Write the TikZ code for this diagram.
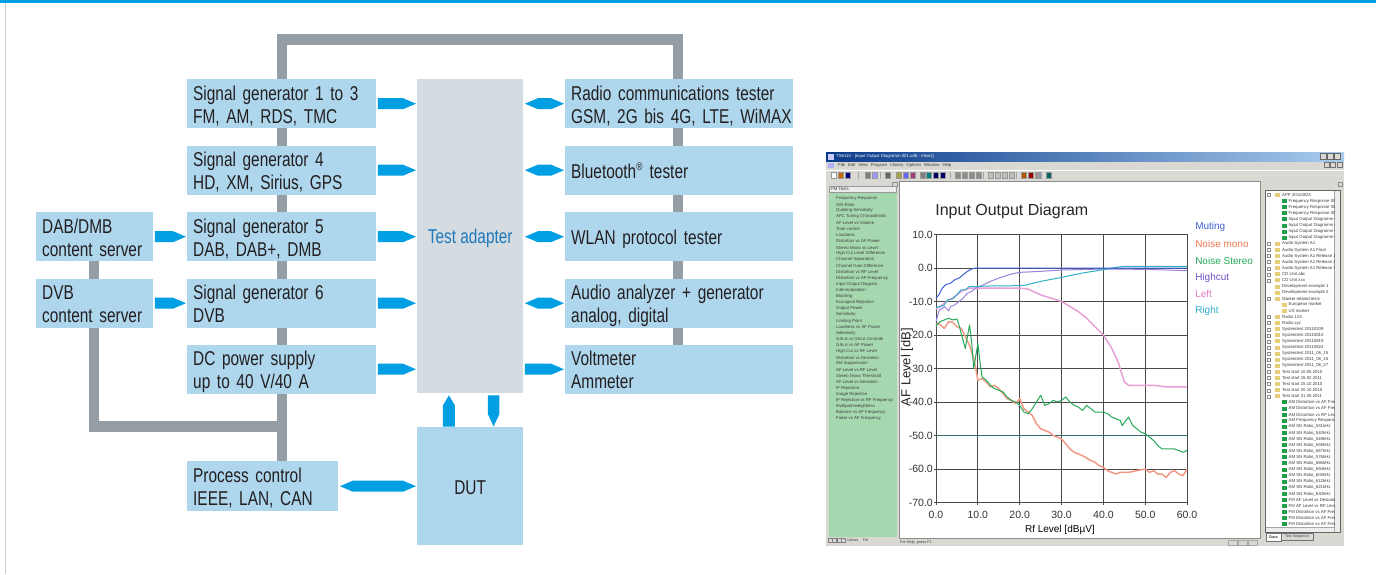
\documentclass[tikz,border=0pt]{standalone}
\usepackage{fontspec}
\setmainfont[FakeStretch=0.77]{Liberation Sans}
\newfontfamily\arial{Liberation Sans}
\usetikzlibrary{calc}
\pgfdeclarelayer{background}
\pgfsetlayers{background,main}
\definecolor{boxc}{HTML}{AED6ED}
\definecolor{tac}{HTML}{D5DCE1}
\definecolor{busc}{HTML}{959EA5}
\definecolor{arrc}{HTML}{009FE3}
\definecolor{txtc}{HTML}{231F20}
\definecolor{tatxt}{HTML}{1F78BA}
\definecolor{framec}{HTML}{C9CED2}
\definecolor{winc}{HTML}{DAD8D2}
\definecolor{tbl}{HTML}{0A3A8A}
\definecolor{tbr}{HTML}{A8CCEE}
\definecolor{greenc}{HTML}{A6D8AF}
\definecolor{tinyc}{HTML}{3C3C3C}
\definecolor{gridc}{HTML}{4A4A4A}
\definecolor{mutc}{HTML}{3F63D6}
\definecolor{monoc}{HTML}{F39A86}
\definecolor{monot}{HTML}{F0744E}
\definecolor{sterc}{HTML}{25A858}
\definecolor{highc}{HTML}{9A82DE}
\definecolor{hight}{HTML}{7450C8}
\definecolor{leftc}{HTML}{E6A0D6}
\definecolor{leftt}{HTML}{E27CC4}
\definecolor{rightc}{HTML}{2EB0CA}
\definecolor{foldc}{HTML}{E6CF7A}
\definecolor{filec}{HTML}{1E9E48}
\newcommand\bfnt{\fontsize{20}{23}\selectfont\lineskiplimit=-30pt\relax}
\newcommand\ls{\rule[-3.5pt]{0pt}{23pt}}
\newcommand\bl[1]{\mbox{\ls #1}}
\newcommand\harr[2]{\fill[arrc] ($(#1)+(1.5,-5.5)$) -- ($(#2)+(-14,-5.5)$) -- ($(#2)+(-1,0)$) -- ($(#2)+(-14,5.5)$) -- ($(#1)+(1.5,5.5)$) -- cycle;}
\newcommand\dharr[2]{\fill[arrc] ($(#1)+(1.5,0)$) -- ($(#1)+(14.5,-5.5)$) -- ($(#2)+(-14,-5.5)$) -- ($(#2)+(-1,0)$) -- ($(#2)+(-14,5.5)$) -- ($(#1)+(14.5,5.5)$) -- cycle;}
\begin{document}
\begin{tikzpicture}[x=1pt,y=-1pt,
  box/.style={fill=boxc, draw=none, anchor=north west, minimum height=49pt, inner xsep=6pt, inner ysep=0pt, align=left, text=txtc, font=\bfnt},
  bus/.style={draw=busc, line width=10.5pt},
  tiny/.style={font=\arial\fontsize{4.3}{5}\selectfont, text=tinyc, inner sep=0pt},
  grid/.style={draw=gridc, line width=0.8pt},
  curve/.style={line width=1pt, line join=round},
  tick/.style={font=\arial\fontsize{10.5}{12}\selectfont, text=black!80, inner sep=0pt},
  legend/.style={font=\arial\fontsize{10}{12}\selectfont, inner sep=0pt, anchor=west}]
\useasboundingbox (0,0) rectangle (1376,574);
\begin{pgfonlayer}{background}
\fill[white] (0,0) rectangle (1376,574);
\end{pgfonlayer}
\fill[arrc] (0,0) rectangle (1376,3.2);
\draw[framec, line width=1.6pt] (5.5,3) -- (5.5,574);

% ---------------- block diagram ----------------
\node[box, text width=177pt] (sg1) at (187,79) {\bl{Signal generator 1 to 3}\\\bl{FM, AM, RDS, TMC}};
\node[box, text width=177pt] (sg4) at (187,145.5) {\bl{Signal generator 4}\\\bl{HD, XM, Sirius, GPS}};
\node[box, text width=177pt] (sg5) at (187,212) {\bl{Signal generator 5}\\\bl{DAB, DAB+, DMB}};
\node[box, text width=177pt] (sg6) at (187,278.5) {\bl{Signal generator 6}\\\bl{DVB}};
\node[box, text width=177pt] (dc) at (187,344.5) {\bl{DC power supply}\\\bl{up to 40 V/40 A}};
\node[box, text width=139pt, minimum height=50pt] (pc) at (187,461) {\bl{Process control}\\\bl{IEEE, LAN, CAN}};
\node[box, text width=105pt] (dab) at (36,212) {\bl{DAB/DMB}\\\bl{content server}};
\node[box, text width=105pt] (dvb) at (36,278.5) {\bl{DVB}\\\bl{content server}};
\node[box, fill=tac, text=tatxt, align=center, inner sep=0pt, minimum width=106pt, minimum height=314pt] (ta) at (417,79) {\bl{Test adapter}};
\node[box, align=center, inner sep=0pt, minimum width=106pt, minimum height=118pt] (dut) at (417,427) {\bl{DUT}};
\node[box, text width=216pt] (rc) at (565,79) {\bl{Radio communications tester}\\\bl{GSM, 2G bis 4G, LTE, WiMAX}};
\node[box, text width=216pt] (bt) at (565,145.5) {\bl{Bluetooth\textsuperscript{\fontsize{11}{11}\selectfont\textregistered} tester}};
\node[box, text width=216pt] (wlan) at (565,212) {\bl{WLAN protocol tester}};
\node[box, text width=216pt] (aud) at (565,278.5) {\bl{Audio analyzer + generator}\\\bl{analog, digital}};
\node[box, text width=216pt] (volt) at (565,344.5) {\bl{Voltmeter}\\\bl{Ammeter}};

\coordinate (bl) at (282,39.5);
\coordinate (br) at (678,39.5);
\coordinate (bx) at (94,426.5);
\begin{pgfonlayer}{background}
\draw[bus] (bl |- pc.north) -- (bl) -- (br) -- (br |- volt.north);
\draw[bus] (bx |- dab.south) -- (bx) -- ($(bl |- bx)+(5,0)$);
\end{pgfonlayer}

\harr{sg1.east}{ta.west|-sg1.east}
\harr{sg4.east}{ta.west|-sg4.east}
\harr{sg5.east}{ta.west|-sg5.east}
\harr{sg6.east}{ta.west|-sg6.east}
\harr{dc.east}{ta.west|-dc.east}
\harr{dab.east}{sg5.west}
\harr{dvb.east}{sg6.west}
\dharr{ta.east|-rc.west}{rc.west}
\dharr{ta.east|-bt.west}{bt.west}
\dharr{ta.east|-wlan.west}{wlan.west}
\dharr{ta.east|-aud.west}{aud.west}
\harr{ta.east|-volt.west}{volt.west}
\dharr{pc.east}{dut.west|-pc.east}
\coordinate (u1) at ($(dut.north west)!0.3!(dut.north east)$);
\coordinate (u2) at ($(dut.north west)!0.72!(dut.north east)$);
\fill[arrc] ($(u1)+(-6,-0.5)$) -- ($(ta.south-|u1)+(-6,12)$) -- ($(ta.south-|u1)+(0,2)$) -- ($(ta.south-|u1)+(6,12)$) -- ($(u1)+(6,-0.5)$) -- cycle;
\fill[arrc] ($(ta.south-|u2)+(-5.75,2)$) -- ($(u2)+(-5.75,-13)$) -- ($(u2)+(0,-0.5)$) -- ($(u2)+(5.75,-13)$) -- ($(ta.south-|u2)+(5.75,2)$) -- cycle;

% ---------------- screenshot ----------------
\fill[winc] (826,152) rectangle (1344,546);
\shade[left color=tbl, right color=tbr] (826,152) rectangle (1344,161);
\fill[white!80!blue] (827.5,153.5) rectangle (833.5,159.5);
\node[tiny, text=white, anchor=west] (wtitle) at (836,156.5) {TS6110 - [Input Output Diagramm 001.xdb - View1]};
\foreach \bx in {1320,1327,1334}{\fill[winc] (\bx,153.5) rectangle ++(6,6); \draw[black!60, line width=0.3pt] (\bx,153.5) rectangle ++(6,6);}
% menu
\fill[white!70!blue] (827.5,162.5) rectangle (833.5,168);
\node[tiny, anchor=west] (menu) at (838,165.5) {File\hspace{3pt}Edit\hspace{3pt}View\hspace{3pt}Program\hspace{3pt}Library\hspace{3pt}Options\hspace{3pt}Window\hspace{3pt}Help};
\foreach \bx in {1324,1330.5,1337}{\draw[black!55, line width=0.3pt] (\bx,162.5) rectangle ++(5,5);}
% toolbar
\draw[white, line width=0.5pt] (826,170) -- (1344,170);
\foreach \ix/\ic in {831/white, 838/orange!80!black, 845/blue!50!black, 865/black!50, 872/blue!40, 885/black!60, 896/yellow!60!black, 903/blue!60, 910/magenta!60!black, 920/black!50, 926/teal, 933/blue!40!black, 940/blue!40!black, 955/black!45, 962/black!45, 969/black!45, 976/black!45, 988/black!25, 995/black!25, 1002/black!25, 1009/black!25, 1021/orange!70!black, 1028/red!60!black, 1035/black!40, 1046/teal!80!black}{
  \fill[\ic] (\ix,172.5) rectangle ++(5.5,5.5);
  \draw[black!40, line width=0.25pt] (\ix,172.5) rectangle ++(5.5,5.5);}
\foreach \sx in {858,880,950,983,1016,1041}{\draw[black!35, line width=0.4pt] (\sx,172) -- (\sx,179);}
% left pane
\draw[black!45, line width=0.3pt] (892,182) rectangle (897,186);
\fill[black!8] (829,186) rectangle (896,192);
\draw[black!40, line width=0.3pt] (829,186) rectangle (896,192);
\node[tiny, anchor=west] (fmt) at (831,189) {FM Tests};
\fill[greenc] (829,192.5) rectangle (896.5,537);
\foreach \tx [count=\i] in {Frequency Response, S/N Ratio, Quieting Sensitivity, AFC Tuning Characteristic, AF Level vs Volume, Tone control, Loudness, Distortion vs AF Power, Stereo Mono vs Level, High Cut Level Difference, Channel Separation, Channel Gain Difference, Distortion vs RF Level, Distortion vs AF Frequency, Input Output Diagram, Intermodulation, Blocking, Ecosignal Rejection, Output Power, Sensitivity, Limiting Point, Loudness vs AF Power, Selectivity, GALA vs GALA Controle, GALA vs AF Power, High Cut vs RF Level, Distortion vs Deviation, AM Suppression, AF Level vs RF Level, Stereo Mono Threshold, AF Level vs Deviation, IF Rejection, Image Rejection, IF Rejection vs RF Frequency, Multipath/weightless, Balance vs AF Frequency, Fader vs AF Frequency}
  {\node[tiny, anchor=west] (fm\i) at ({836},{198.5+6.12*(\i-1)}) {\tx};}
\foreach \nx in {828,832.5,837,841.5}{\draw[black!50, line width=0.3pt] (\nx,538.5) rectangle ++(4,4);}
\node[tiny, anchor=west, font=\arial\fontsize{3.5}{4}\selectfont] (ntab) at (847,540.5) {Utilities \quad FM};
% chart area
\fill[white] (899,181) rectangle (1260.5,538);
\draw[black!45, line width=0.5pt] (899,181) rectangle (1260.5,538);
\node[tiny, anchor=west, font=\arial\fontsize{3.8}{4}\selectfont] (status) at (900,542.5) {For Help, press F1};
\foreach \px in {1228,1238,1248}{\draw[black!35, line width=0.3pt] (\px,540) rectangle ++(9,5);}

\begin{scope}[shift={(936,268)}, x=4.185pt, y=3.35pt]
  \foreach \gx in {10,20,30,40,50}{\draw[grid] (\gx,-70) -- (\gx,10);}
  \foreach \gy in {0,-10,-20,-30,-40,-60}{\draw[grid] (0,\gy) -- (60,\gy);}
  \draw[draw=teal!60!black!80, line width=0.8pt] (0,-50) -- (60,-50);
  \draw[grid] (0,-70) rectangle (60,10);
  \foreach \v [count=\i] in {10,0,-10,-20,-30,-40,-50,-60,-70}{
    \draw[grid] (0,\v) -- ++(-2.5pt,0);
    \node[tick, anchor=east] (yl\i) at ([xshift=-3pt]0,\v) {\v.0};}
  \foreach \v [count=\i] in {0,10,20,30,40,50,60}{
    \draw[grid] (\v,-70) -- ++(0,-2.5pt);
    \node[tick] (xl\i) at ([yshift=-12pt]\v,-70) {\v.0};}
  \node[font=\arial\fontsize{10}{12}\selectfont, inner sep=0pt] (xlab) at (29.6,-78.3) {Rf Level [dBµV]};
  \node[font=\arial\fontsize{13}{14}\selectfont, inner sep=0pt, rotate=90, text=black!85] (ylab) at (-6.9,-29.6) {AF Level [dB]};
  \node[font=\arial\fontsize{16}{18}\selectfont, inner sep=0pt, anchor=west, text=black!85] (ctitle) at (-0.2,17) {Input Output Diagram};
  \node[legend, text=mutc] (lg1) at (61.9,12.2) {Muting};
  \node[legend, text=monot] (lg2) at (61.9,7.1) {Noise mono};
  \node[legend, text=sterc] (lg3) at (61.9,2.1) {Noise Stereo};
  \node[legend, text=hight] (lg4) at (61.9,-3.0) {Highcut};
  \node[legend, text=leftt] (lg5) at (61.9,-7.8) {Left};
  \node[legend, text=rightc] (lg6) at (61.9,-12.8) {Right};
  % curves
  \draw[curve, draw=monoc, line width=1.5pt] plot coordinates {(0,-17) (0.5,-16.5) (1,-17) (2,-18) (2.5,-17) (3,-16) (4,-16.2) (5,-17.5) (6,-18) (7,-20.5) (8,-23) (9,-27) (9.5,-30) (10,-33.5) (11,-33) (12,-34) (13,-35.5) (14,-35) (15,-36) (16,-37.5) (17,-39) (18,-39.5) (19,-40.5) (20,-39) (21,-42) (22,-43) (23,-44) (24,-46.5) (25,-48) (26,-48.5) (27,-49) (28,-50) (29,-50.5) (30,-51) (31,-52.5) (32,-54) (33,-55) (35,-56) (37,-57.5) (38,-58) (39,-59) (40,-59.5) (41,-60.5) (42,-61) (43,-61.5) (44,-61) (46,-61) (48,-60.5) (50,-60) (51,-61) (52,-60.5) (53,-61.5) (54,-61.5) (55,-62.5) (56,-61) (57,-60.5) (58,-61.5) (59,-62) (60,-60)};
  \draw[curve, draw=leftc, line width=1.5pt] plot coordinates {(0,-12.2) (1,-11.5) (2,-10.5) (3,-9.5) (4,-9) (5,-8) (6,-7) (7,-6.5) (8,-6) (10,-6) (15,-6) (20,-6) (22,-6.3) (25,-8) (28,-9.2) (30,-10) (32,-11.5) (34,-13) (36,-15) (38,-17.5) (40,-20) (42,-24) (43.5,-28) (45,-34) (46,-35) (48,-35) (50,-35) (52,-35) (55,-35.5) (60,-35.5)};
  \draw[curve, draw=sterc] plot coordinates {(0,-17.5) (0.5,-16.5) (1,-16) (2,-15.5) (3,-15) (4,-15.5) (5,-15.2) (5.5,-17) (6,-19.5) (7,-24) (8,-17) (8.5,-22) (9,-30) (10,-22.5) (10.5,-28) (11,-32.5) (12,-33.5) (13,-35) (14,-36) (15,-36.5) (16,-37) (17,-38.5) (18,-39.5) (19,-40) (20,-41) (21,-43) (22,-43.5) (23,-42) (24,-40) (25,-38) (26,-41) (27,-40.5) (28,-39.5) (29,-40) (30,-39.5) (31,-38.5) (32,-40) (33,-41) (34,-41.5) (35,-42.5) (36,-41) (37,-42) (38,-43) (40,-43) (41,-43.5) (42,-44.5) (43,-45) (44,-45.5) (44.5,-47) (46,-44.5) (47,-47) (48,-48) (49,-49) (50,-49.5) (51,-50.5) (52,-51.5) (53,-53) (54,-54) (56,-54) (57,-54) (58,-54.5) (59,-55) (60,-54.5)};
  \draw[curve, draw=highc] plot coordinates {(0,-16) (0.8,-12.5) (1.5,-12) (2,-11.5) (3,-12.8) (3.5,-11.5) (4.5,-11) (5.5,-10) (6.5,-9) (7.5,-7.5) (8.5,-7) (9.5,-6) (11,-5.2) (13,-4) (15,-3) (18,-1.8) (20,-1.3) (25,-1) (30,-0.6) (40,-0.3) (50,-0.4) (60,-0.8)};
  \draw[curve, draw=rightc] plot coordinates {(0,-11.8) (1,-11.5) (2,-11) (2.8,-9.5) (4,-9.2) (5,-8) (6,-6.5) (7,-6.5) (8,-5.5) (9,-5.6) (10,-5.5) (12,-5.4) (15,-5.3) (18,-5.3) (21,-5.2) (25,-4) (30,-2.8) (35,-1.5) (40,-0.5) (43,0.2) (45,0.5) (60,0.5)};
  \draw[curve, draw=mutc] plot coordinates {(0,-9) (0.7,-8) (1.5,-6) (2.3,-5) (3.5,-4.5) (4.5,-3.5) (5.5,-3) (6.5,-2) (7.5,-1) (8.5,-0.3) (9.5,0) (12,0) (40,0) (60,0)};
\end{scope}

% right pane
\draw[black!45, line width=0.3pt] (1338,182) rectangle (1342.5,186);
\fill[white] (1265,190) rectangle (1340,532);
\draw[black!60, line width=0.5pt] (1265,190) rectangle (1340,532);
\fill[black!7] (1334.5,190.5) rectangle (1339.5,531.5);
\fill[black!7] (1265.5,527) rectangle (1334.5,531.5);
\draw[black!35, line width=0.3pt] (1334.5,190.5) -- (1334.5,531.5);
\draw[black!35, line width=0.3pt] (1265.5,527) -- (1334.5,527);
\begin{scope}
\clip (1265.5,190.5) rectangle (1334,526.5);
\foreach \lv/\ty/\tx [count=\i] in {0/foldc/APP 20110823, 1/filec/Frequency Response 001, 1/filec/Frequency Response 002, 1/filec/Frequency Response 003, 1/filec/Input Output Diagramm 001, 1/filec/Input Output Diagramm 002, 1/filec/Input Output Diagramm 003, 1/filec/Input Output Diagramm 004, 0/foldc/Audio System A1, 0/foldc/Audio System A1 Final, 0/foldc/Audio System A1 Release 1, 0/foldc/Audio System A1 Release 2, 0/foldc/Audio System A1 Release 3, 0/foldc/CD Unit abc, 0/foldc/CD Unit xxx, 0/foldc/Development example 1, 0/foldc/Development example 2, 0/foldc/Market related tests, 1/foldc/European market, 1/foldc/US market, 0/foldc/Radio 123, 0/foldc/Radio xyz, 0/foldc/Systemtest 20110209, 0/foldc/Systemtest 20110810, 0/foldc/Systemtest 20110819, 0/foldc/Systemtest 20110824, 0/foldc/Systemtest 2011\_06\_15, 0/foldc/Systemtest 2011\_06\_15, 0/foldc/Systemtest 2011\_06\_27, 0/foldc/Test start 10.05.2010, 0/foldc/Test start 15.02.2011, 0/foldc/Test start 15.10.2010, 0/foldc/Test start 20.10.2010, 0/foldc/Test start 21.05.2011, 1/filec/AM Distortion vs AF Freq, 1/filec/AM Distortion vs AF Freq, 1/filec/AM Distortion vs RF Level, 1/filec/AM Frequency Response, 1/filec/AM SN Ratio\_531kHz, 1/filec/AM SN Ratio\_540kHz, 1/filec/AM SN Ratio\_549kHz, 1/filec/AM SN Ratio\_558kHz, 1/filec/AM SN Ratio\_567kHz, 1/filec/AM SN Ratio\_576kHz, 1/filec/AM SN Ratio\_585kHz, 1/filec/AM SN Ratio\_594kHz, 1/filec/AM SN Ratio\_603kHz, 1/filec/AM SN Ratio\_612kHz, 1/filec/AM SN Ratio\_621kHz, 1/filec/AM SN Ratio\_630kHz, 1/filec/FM AF Level vs Deviation, 1/filec/FM AF Level vs RF Level, 1/filec/FM Distortion vs AF Freq, 1/filec/FM Distortion vs AF Freq, 1/filec/FM Distortion vs AF Freq}
{
  \fill[\ty] ({1275+7*\lv},{195+6.1*(\i-1)-2}) rectangle ++(4.5,4);
  \node[tiny, anchor=west] (tr\i) at ({1282+6.5*\lv},{195+6.1*(\i-1)}) {\tx};
}
\foreach \i in {1,9,10,11,12,13,14,15,18,21,22,23,24,25,26,27,28,29,30,31,32,33,34}
  {\draw[black!45, line width=0.25pt] (1267.5,{195+6.1*(\i-1)-1.5}) rectangle ++(3,3);}
\end{scope}
\fill[white] (1266,533) rectangle (1281,541);
\draw[black!55, line width=0.3pt] (1266,533) rectangle (1281,541);
\draw[black!55, line width=0.3pt] (1281,533) rectangle (1313,540);
\node[tiny, font=\arial\bfseries\fontsize{3.8}{4}\selectfont] (tdata) at (1273.5,537) {Data};
\node[tiny, font=\arial\fontsize{3.6}{4}\selectfont] (tseq) at (1297,536.5) {Test Sequence};
\end{tikzpicture}
\end{document}
